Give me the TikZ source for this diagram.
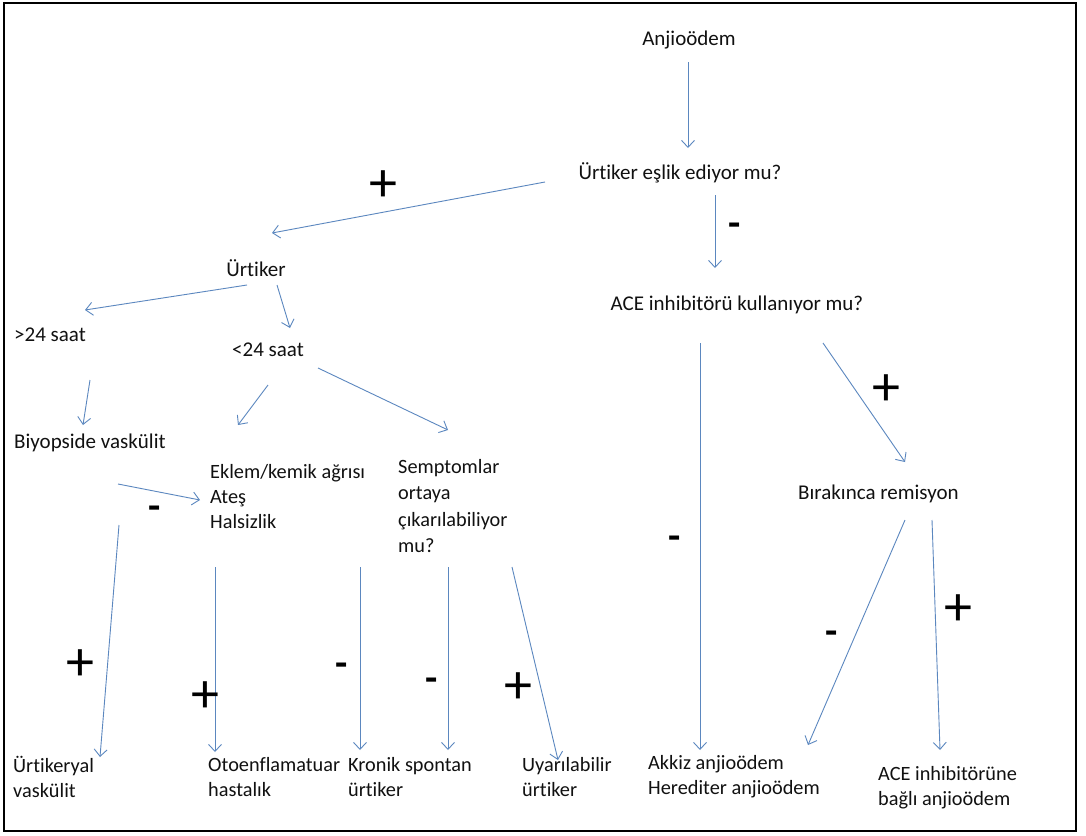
\documentclass[tikz,border=0pt]{standalone}
\usepackage{fontspec}
\setmainfont{Carlito}[RawFeature={-liga}]
\usetikzlibrary{arrows.meta}
\definecolor{arr}{HTML}{5B87BF}
\definecolor{txt}{HTML}{111111}
\tikzset{
  lbl/.style={font=\fontsize{21}{25}\selectfont, text=txt, inner sep=0pt, anchor=west, align=left},
  btm/.style={lbl, font=\fontsize{20.3}{25}\selectfont},
  con/.style={draw=arr, line width=0.9pt, -{Straight Barb[length=7pt,width=13pt]}},
  plus/.style={font=\fontsize{56}{56}\selectfont, text=black, inner sep=0pt},
  minus/.style={font=\fontsize{40}{40}\selectfont\bfseries, text=black, inner sep=0pt}
}
\begin{document}
\begin{tikzpicture}[x=1pt,y=-1pt]
\useasboundingbox (0,0) rectangle (1086,835);
\fill[white] (0,0) rectangle (1086,835);
\draw[line width=1.5pt] (4,3) rectangle (1076,831);

% text nodes
\node[lbl, anchor=center] (anj) at (689,40) {Anjioödem};
\node[lbl, anchor=center] (urq) at (680,173) {Ürtiker eşlik ediyor mu?};
\node[lbl, anchor=center] (urt) at (256,268) {Ürtiker};
\node[lbl, anchor=center] (ace) at (737,305) {ACE inhibitörü kullanıyor mu?};
\node[lbl] (gt) at (14,335) {>24 saat};
\node[lbl] (lt) at (232,350) {<24 saat};
\node[lbl] (bio) at (14,443) {Biyopside vaskülit};
\node[btm] (ekl) at (210,497) {Eklem/kemik ağrısı\\Ateş\\Halsizlik};
\node[btm, font=\fontsize{20.3}{26.5}\selectfont] (sem) at (398,506) {Semptomlar\\ortaya\\çıkarılabiliyor\\mu?};
\node[lbl] (bir) at (798,494) {Bırakınca remisyon};
\node[btm] (uv) at (13,777) {Ürtikeryal\\vaskülit};
\node[btm] (oto) at (208,777) {Otoenflamatuar\\hastalık};
\node[btm] (kro) at (348,777) {Kronik spontan\\ürtiker};
\node[btm] (uya) at (522,777) {Uyarılabilir\\ürtiker};
\node[btm] (akk) at (648,777) {Akkiz anjioödem\\Herediter anjioödem};
\node[btm] (aceb) at (878,788) {ACE inhibitörüne\\bağlı anjioödem};

% connector end points
\coordinate (a1s) at (688,62);   \coordinate (a1e) at (688,148);
\coordinate (a2s) at (545,182);  \coordinate (a2e) at (272,233);
\coordinate (a3s) at (715,195);  \coordinate (a3e) at (715,268);
\coordinate (a4s) at (247,285);  \coordinate (a4e) at (85,310);
\coordinate (a5s) at (277,285);  \coordinate (a5e) at (290,328);
\coordinate (a6s) at (90,380);   \coordinate (a6e) at (83,425);
\coordinate (a7s) at (268,385);  \coordinate (a7e) at (238,425);
\coordinate (a8s) at (318,368);  \coordinate (a8e) at (448,430);
\coordinate (a9s) at (118,484);  \coordinate (a9e) at (200,500);
\coordinate (b1s) at (119,525);  \coordinate (b1e) at (100,757);
\coordinate (b2s) at (215,567);  \coordinate (b2e) at (215,752);
\coordinate (b3s) at (360,567);  \coordinate (b3e) at (360,750);
\coordinate (b4s) at (448,567);  \coordinate (b4e) at (448,750);
\coordinate (b5s) at (512,567);  \coordinate (b5e) at (558,760);
\coordinate (c1s) at (700,343);  \coordinate (c1e) at (700,750);
\coordinate (c2s) at (823,343);  \coordinate (c2e) at (905,462);
\coordinate (c3s) at (905,520);  \coordinate (c3e) at (808,745);
\coordinate (c4s) at (932,520);  \coordinate (c4e) at (940,750);

\foreach \p in {a1,a2,a3,a4,a5,a6,a7,a8,a9,b1,b2,b3,b4,b5,c1,c2,c3,c4}
  \draw[con] (\p s) -- (\p e);

% signs
\node[plus]  (p1) at (383,186) {+};
\node[minus] (m1) at (735,230) {-};
\node[minus] (m2) at (155,513) {-};
\node[plus]  (p2) at (886,390) {+};
\node[minus] (m3) at (675,543) {-};
\node[plus]  (p3) at (80,665) {+};
\node[plus]  (p4) at (205,697) {+};
\node[minus] (m4) at (342,670) {-};
\node[minus] (m5) at (432,685) {-};
\node[plus]  (p5) at (518,688) {+};
\node[minus] (m6) at (832,638) {-};
\node[plus]  (p6) at (958,610) {+};
\end{tikzpicture}
\end{document}
